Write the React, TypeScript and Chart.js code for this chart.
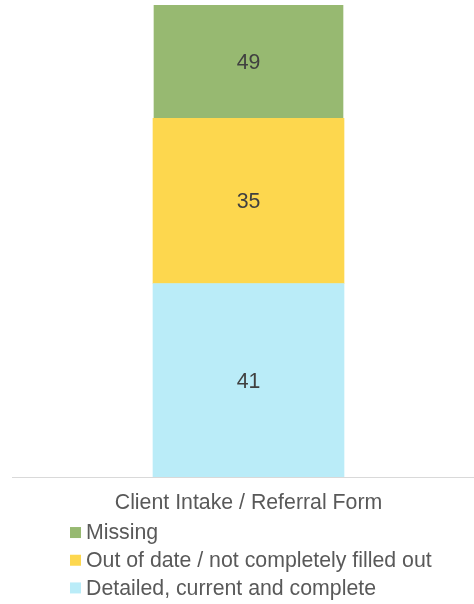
import React, { useEffect, useRef } from "react";
import { Chart, registerables } from "chart.js";

Chart.register(...registerables);

const categories = ["Client Intake / Referral Form"];
const seriesNames = ["Detailed, current and complete", "Out of date / not completely filled out", "Missing"];
const detailedValues = [41];
const outOfDateValues = [35];
const missingValues = [49];
const seriesColors = ["#BAECF8", "#FDD74E", "#97B971"];
const yMax = 100;

const FONT = "'Liberation Sans', Arial, sans-serif";
const FS = 21.3;

const labelPlugin = {
  id: "barLabels",
  afterDatasetsDraw(chart: any) {
    const ctx = chart.ctx;
    const area = chart.chartArea;
    ctx.save();
    ctx.font = `${FS}px ${FONT}`;
    ctx.fillStyle = "#404040";
    ctx.textAlign = "center";
    ctx.textBaseline = "middle";
    chart.data.datasets.forEach((ds: any, i: number) => {
      const meta = chart.getDatasetMeta(i);
      meta.data.forEach((bar: any, j: number) => {
        const top = Math.max(Math.min(bar.y, bar.base), area.top);
        const bottom = Math.min(Math.max(bar.y, bar.base), area.bottom);
        ctx.fillText(String(ds.data[j]), bar.x, (top + bottom) / 2 + 1.5);
      });
    });
    ctx.restore();
  },
};

const legendPlugin = {
  id: "customLegend",
  afterDraw(chart: any) {
    const ctx = chart.ctx;
    const area = chart.chartArea;
    const ds = chart.data.datasets.slice().reverse();
    ctx.save();
    ctx.font = `${FS}px ${FONT}`;
    ctx.textAlign = "left";
    ctx.textBaseline = "middle";
    ds.forEach((d: any, i: number) => {
      const cy = area.bottom + 55.5 + i * 27.7;
      ctx.fillStyle = d.backgroundColor;
      ctx.fillRect(70, cy - 5.5, 11, 11);
      ctx.fillStyle = "#595959";
      ctx.fillText(d.label, 86, cy + 1);
    });
    ctx.restore();
  },
};

export default function App() {
  const ref = useRef<HTMLCanvasElement>(null);
  useEffect(() => {
    if (!ref.current) return;
    const chart = new Chart(ref.current, {
      type: "bar",
      data: {
        labels: categories,
        datasets: [
          { label: seriesNames[0], data: detailedValues, backgroundColor: seriesColors[0], barThickness: 191 },
          { label: seriesNames[1], data: outOfDateValues, backgroundColor: seriesColors[1], barThickness: 191 },
          { label: seriesNames[2], data: missingValues, backgroundColor: seriesColors[2], barThickness: 189 },
        ],
      },
      options: {
        responsive: false,
        animation: false,
        devicePixelRatio: 1,
        layout: { padding: { top: 5, left: 12, right: 0, bottom: 75.4 } },
        plugins: { legend: { display: false }, tooltip: { enabled: false } },
        scales: {
          x: {
            stacked: true,
            grid: { display: false, drawTicks: false },
            border: { display: true, color: "#D9D9D9", width: 1 },
            ticks: { color: "#595959", font: { family: FONT, size: FS }, padding: 13 },
          },
          y: {
            stacked: true,
            display: false,
            min: 0,
            max: yMax,
          },
        },
      },
      plugins: [labelPlugin, legendPlugin],
    });
    return () => chart.destroy();
  }, []);
  return (
    <div style={{ position: "absolute", left: 0, top: 0, width: 474, height: 604, overflow: "hidden", background: "#fff" }}>
      <canvas ref={ref} width={485} height={604} style={{ display: "block", width: 485, height: 604 }} />
    </div>
  );
}
